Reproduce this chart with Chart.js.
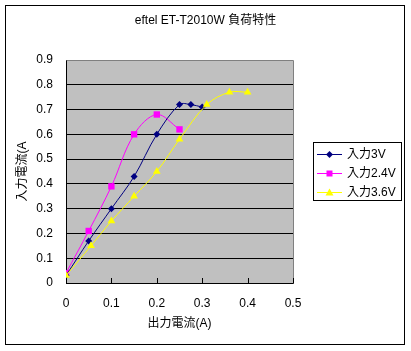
<!DOCTYPE html>
<html>
<head>
<meta charset="utf-8">
<script src="https://cdn.jsdelivr.net/npm/chart.js@4/dist/chart.umd.min.js"></script>
<style>
html, body { margin: 0; padding: 0; background: #fff; }
#wrap { width: 411px; height: 351px; }
</style>
</head>
<body>
<div id="wrap"><canvas id="chart" width="411" height="351"></canvas></div>
<script>
// data
const seriesLabels = ['入力3V', '入力2.4V', '入力3.6V'];
const x3V = [0, 0.05, 0.1, 0.15, 0.2, 0.25, 0.275, 0.3];
const y3V = [0.03, 0.17, 0.30, 0.43, 0.60, 0.72, 0.72, 0.71];
const x24V = [0, 0.05, 0.1, 0.15, 0.2, 0.25];
const y24V = [0.04, 0.21, 0.39, 0.60, 0.68, 0.62];
const x36V = [0, 0.055, 0.1, 0.15, 0.2, 0.25, 0.31, 0.36, 0.40];
const y36V = [0.03, 0.15, 0.25, 0.35, 0.45, 0.58, 0.72, 0.77, 0.77];
const xTickLabels = ['0', '0.1', '0.2', '0.3', '0.4', '0.5'];
const yTickLabels = ['0', '0.1', '0.2', '0.3', '0.4', '0.5', '0.6', '0.7', '0.8', '0.9'];

const FONT = "'Liberation Sans', 'Noto Sans CJK JP', sans-serif";
const colors = ['#000080', '#FF00FF', '#FFFF00'];
const styles = ['rectRot', 'rect', 'triangle'];

function pts(xs, ys) {
    return xs.map(function(x, i) { return { x: x, y: ys[i] }; });
}

// marker shapes for the hand drawn legend
function marker(ctx, style, x, y, color) {
    ctx.fillStyle = color;
    ctx.beginPath();
    if (style === 'rectRot') {
        ctx.moveTo(x, y - 3.5); ctx.lineTo(x + 3.5, y); ctx.lineTo(x, y + 3.5); ctx.lineTo(x - 3.5, y);
    } else if (style === 'rect') {
        ctx.rect(x - 3, y - 3, 6, 6);
    } else {
        ctx.moveTo(x, y - 4); ctx.lineTo(x + 4, y + 3); ctx.lineTo(x - 4, y + 3);
    }
    ctx.closePath();
    ctx.fill();
}

const frame = {
    id: 'frame',
    beforeDraw(chart) {
        const ctx = chart.ctx, a = chart.chartArea;
        ctx.save();
        ctx.fillStyle = '#C0C0C0';
        ctx.fillRect(a.left, a.top, a.right - a.left, a.bottom - a.top);
        ctx.restore();
    },
    beforeDatasetsDraw(chart) {
        const ctx = chart.ctx, a = chart.chartArea;
        const xs = chart.scales.x;
        ctx.save();
        ctx.lineWidth = 1;
        ctx.strokeStyle = '#808080';
        ctx.beginPath();
        ctx.moveTo(Math.round(a.left) + 0.5, Math.round(a.top) + 0.5);
        ctx.lineTo(Math.round(a.right) + 0.5, Math.round(a.top) + 0.5);
        ctx.lineTo(Math.round(a.right) + 0.5, Math.round(a.bottom) + 0.5);
        ctx.stroke();
        // inward tick marks on the x axis
        ctx.strokeStyle = '#000';
        ctx.beginPath();
        xs.ticks.forEach(function(t) {
            const px = Math.round(xs.getPixelForValue(t.value)) + 0.5;
            ctx.moveTo(px, Math.round(a.bottom));
            ctx.lineTo(px, Math.round(a.bottom) - 5);
        });
        ctx.stroke();
        ctx.restore();
    },
    afterDraw(chart) {
        const ctx = chart.ctx;
        ctx.save();
        ctx.lineWidth = 1;
        ctx.strokeStyle = '#000';
        ctx.strokeRect(5.5, 5.5, 399, 339);
        ctx.strokeRect(313.5, 142.5, 88, 58);
        ctx.font = '12px ' + FONT;
        ctx.textBaseline = 'middle';
        ctx.textAlign = 'left';
        seriesLabels.forEach(function(lbl, i) {
            const y = 154.5 + i * 19;
            ctx.strokeStyle = colors[i];
            ctx.beginPath();
            ctx.moveTo(317, y); ctx.lineTo(342, y);
            ctx.stroke();
            marker(ctx, styles[i], 329.5, y, colors[i]);
            ctx.fillStyle = '#000';
            ctx.fillText(lbl, 347, y);
        });
        ctx.restore();
    }
};

function ds(i, data, order, radius) {
    return {
        label: seriesLabels[i],
        data: data,
        borderColor: colors[i],
        backgroundColor: colors[i],
        borderWidth: 1,
        pointStyle: styles[i],
        pointRadius: radius,
        pointBorderWidth: 0,
        tension: 0.35,
        order: order
    };
}

new Chart(document.getElementById('chart'), {
    type: 'line',
    data: {
        datasets: [
            ds(0, pts(x3V, y3V), 1, 3.5),
            ds(1, pts(x24V, y24V), 2, 4.5),
            ds(2, pts(x36V, y36V), 0, 4.5)
        ]
    },
    options: {
        responsive: false,
        animation: false,
        layout: { padding: { left: 0, right: 0, top: 0, bottom: 6 } },
        plugins: {
            legend: { display: false },
            tooltip: { enabled: false },
            title: {
                display: true,
                text: 'eftel ET-T2010W 負荷特性',
                color: '#000',
                font: { family: FONT, size: 12, weight: 'normal' },
                padding: { top: 13, bottom: 32.6 }
            }
        },
        scales: {
            x: {
                type: 'linear',
                min: 0, max: 0.5,
                afterFit: function(s) { s.height = 62; },
                ticks: {
                    stepSize: 0.1,
                    padding: 13,
                    color: '#000',
                    maxRotation: 0,
                    font: { family: FONT, size: 12 },
                    callback: function(v, i) { return xTickLabels[i]; }
                },
                grid: { display: false, drawTicks: false },
                border: { display: true, color: '#000', width: 1 },
                title: {
                    display: true,
                    text: '出力電流(A)',
                    color: '#000',
                    font: { family: FONT, size: 12 },
                    padding: { top: 0, bottom: 14 }
                }
            },
            y: {
                type: 'linear',
                min: 0, max: 0.9,
                afterFit: function(s) { s.width = 66; },
                ticks: {
                    stepSize: 0.1,
                    padding: 13,
                    color: '#000',
                    font: { family: FONT, size: 12 },
                    callback: function(v, i) { return yTickLabels[i]; }
                },
                grid: { color: '#000', lineWidth: 1, drawTicks: false },
                border: { display: true, color: '#000', width: 1 },
                title: {
                    display: true,
                    text: '入力電流(A',
                    color: '#000',
                    font: { family: FONT, size: 12 },
                    padding: { top: 15, bottom: 0 }
                }
            },
            // empty right axis that keeps room for the legend
            side: {
                type: 'linear',
                position: 'right',
                min: 0, max: 1,
                afterFit: function(s) { s.width = 118; },
                ticks: { display: false },
                grid: { display: false, drawTicks: false },
                border: { display: false }
            }
        }
    },
    plugins: [frame]
});
</script>
</body>
</html>
